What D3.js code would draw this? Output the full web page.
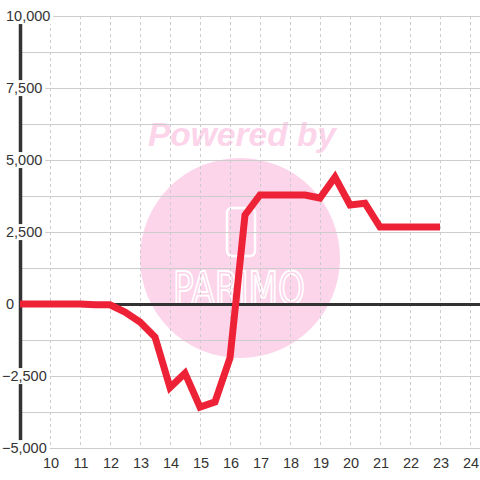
<!DOCTYPE html>
<html>
<head>
<meta charset="utf-8">
<script src="https://cdn.jsdelivr.net/npm/d3@7"></script>
<style>
  html, body { margin: 0; padding: 0; background: #fff; }
  svg { display: block; font-family: "Liberation Sans", Arial, sans-serif; }
</style>
</head>
<body>
<svg width="480" height="480"></svg>
<script>
(function () {

  // data
  const xValues = [9, 10, 10.5, 11, 11.5, 12, 12.5, 13, 13.5, 14, 14.5, 15, 15.5, 16, 16.5,
    17, 17.5, 18, 18.5, 19, 19.5, 20, 20.5, 21, 21.5, 22, 22.5, 23];
  const yValues = [0, 0, 0, 0, -30, -30, -280, -625, -1150, -2900, -2400, -3580, -3400, -1875, 3090,
    3785, 3785, 3785, 3785, 3680, 4410, 3440, 3500, 2670, 2670, 2670, 2670, 2670];

  const xTicks = [10, 11, 12, 13, 14, 15, 16, 17, 18, 19, 20, 21, 22, 23, 24];
  const yLabelTicks = [-5000, -2500, 0, 2500, 5000, 7500, 10000];
  const yGridTicks = d3.range(-5000, 10001, 1250);

  const svg = d3.select("svg"),
    width = +svg.attr("width"),
    height = +svg.attr("height");

  const x = d3.scaleLinear().domain([9, 25]).range([20, 500]);
  const y = d3.scaleLinear().domain([-5000, 10000]).range([448, 16]);

  const fmt = d3.format(",");

  // watermark
  const wm = svg.append("g").attr("class", "watermark");
  wm.append("circle")
    .attr("cx", 240).attr("cy", 258).attr("r", 100)
    .attr("fill", "#fcd5eb");
  wm.append("text")
    .attr("x", 242).attr("y", 146)
    .attr("text-anchor", "middle")
    .attr("font-size", 33)
    .attr("font-weight", "bold")
    .attr("font-style", "italic")
    .attr("fill", "#fcd5eb")
    .attr("textLength", 188)
    .attr("lengthAdjust", "spacingAndGlyphs")
    .text("Powered by");
  wm.append("rect")
    .attr("x", 227).attr("y", 208).attr("width", 28).attr("height", 48).attr("rx", 5)
    .attr("fill", "none").attr("stroke", "#fff").attr("stroke-width", 2.5);
  wm.append("text")
    .attr("x", 239).attr("y", 304)
    .attr("text-anchor", "middle")
    .attr("font-size", 44)
    .attr("font-family", "'DejaVu Sans Condensed', sans-serif")
    .attr("fill", "none")
    .attr("stroke", "#fff")
    .attr("stroke-width", 1.8)
    .attr("textLength", 132)
    .attr("lengthAdjust", "spacingAndGlyphs")
    .text("PARIMO");

  // grid
  svg.append("g").attr("class", "hgrid")
    .selectAll("line")
    .data(yGridTicks)
    .enter().append("line")
    .attr("x1", x(9)).attr("x2", width)
    .attr("y1", d => y(d) + 0.5).attr("y2", d => y(d) + 0.5)
    .attr("stroke", "#cccccc");

  svg.append("g").attr("class", "vgrid")
    .selectAll("line")
    .data(xTicks)
    .enter().append("line")
    .attr("x1", d => x(d) + 0.5).attr("x2", d => x(d) + 0.5)
    .attr("y1", y(10000)).attr("y2", y(-5000))
    .attr("stroke", "#cccccc")
    .attr("stroke-dasharray", "3,3");

  // zero line and y axis line
  svg.append("line")
    .attr("x1", x(9)).attr("x2", width)
    .attr("y1", y(0) + 0.5).attr("y2", y(0) + 0.5)
    .attr("stroke", "#333").attr("stroke-width", 3);

  svg.append("line")
    .attr("x1", x(9) + 0.5).attr("x2", x(9) + 0.5)
    .attr("y1", y(10000)).attr("y2", y(-5000))
    .attr("stroke", "#333").attr("stroke-width", 3.5);

  // y labels with background masks
  const yl = svg.append("g").attr("class", "ylabels")
    .selectAll("g")
    .data(yLabelTicks)
    .enter().append("g");

  yl.append("rect").attr("fill", "#fff");
  yl.append("text")
    .attr("x", d => d < 0 ? 2 : 6)
    .attr("y", d => y(d))
    .attr("dy", "0.35em")
    .attr("font-size", 14.5)
    .attr("fill", "#333")
    .text(d => fmt(d));

  yl.each(function () {
    const g = d3.select(this);
    const b = g.select("text").node().getBBox();
    g.select("rect")
      .attr("x", 0).attr("y", b.y)
      .attr("width", b.x + b.width + 3).attr("height", b.height);
  });

  // x labels
  svg.append("g").attr("class", "xlabels")
    .selectAll("text")
    .data(xTicks)
    .enter().append("text")
    .attr("x", d => x(d) + 1)
    .attr("y", 468)
    .attr("text-anchor", "middle")
    .attr("font-size", 14.5)
    .attr("fill", "#333")
    .text(d => d);

  // series line
  const line = d3.line()
    .x((d, i) => x(xValues[i]))
    .y(d => y(d));

  svg.append("path")
    .datum(yValues)
    .attr("d", line)
    .attr("fill", "none")
    .attr("stroke", "#ee2236")
    .attr("stroke-width", 7)
    .attr("stroke-linejoin", "miter");

}());
</script>
</body>
</html>
